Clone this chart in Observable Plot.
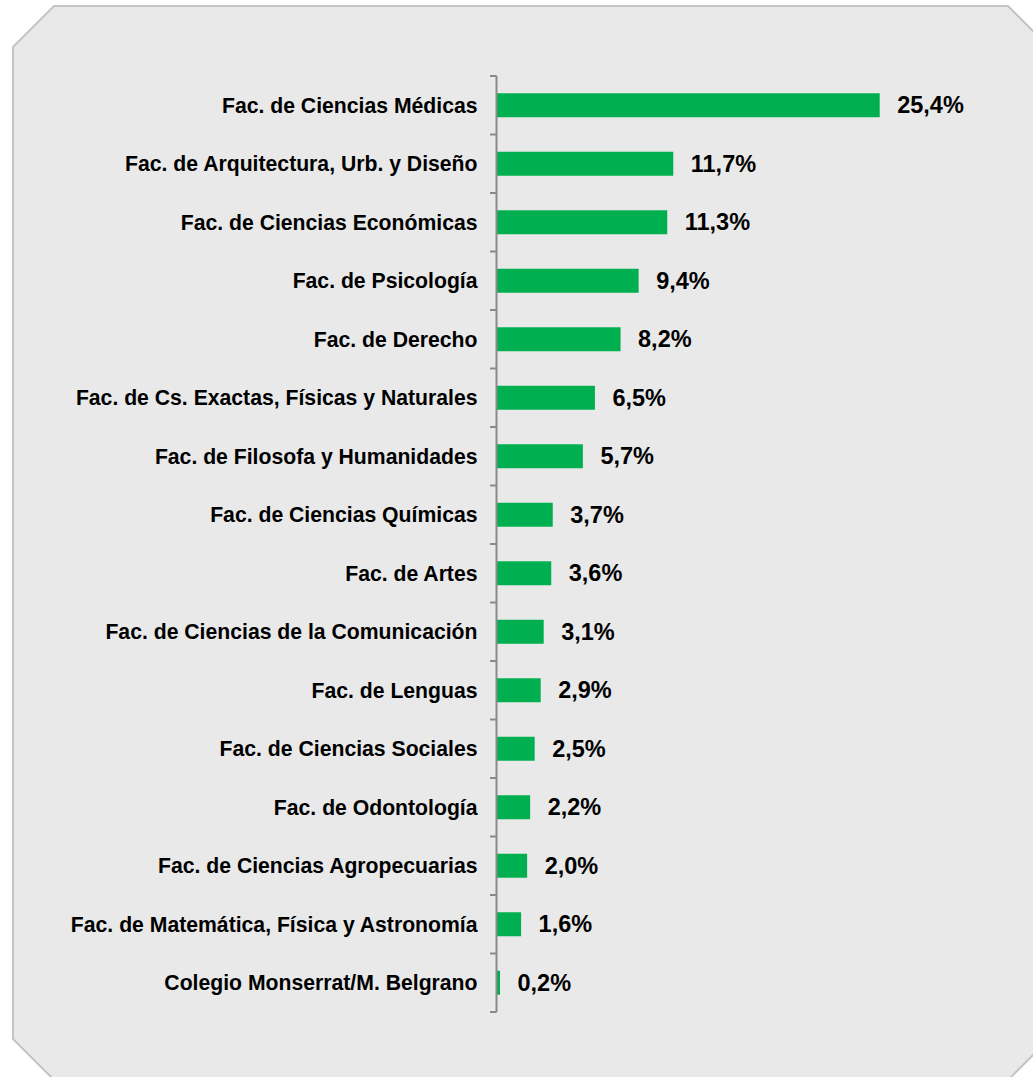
<!DOCTYPE html>
<html>
<head>
<meta charset="utf-8">
<script src="https://cdn.jsdelivr.net/npm/d3@7"></script>
<script src="https://cdn.jsdelivr.net/npm/@observablehq/plot@0.6"></script>
<style>
  html, body { margin: 0; padding: 0; background: #ffffff; }
  #wrap { position: relative; width: 1033px; height: 1077px; overflow: hidden; }
  #bg { position: absolute; left: 0; top: 0; }
  #chart { position: absolute; left: 0; top: 0; }
</style>
</head>
<body>
<div id="wrap">
  <svg id="bg" width="1033" height="1077"></svg>
  <div id="chart"></div>
</div>
<script>
const categories = [
  "Fac. de Ciencias Médicas",
  "Fac. de Arquitectura, Urb. y Diseño",
  "Fac. de Ciencias Económicas",
  "Fac. de Psicología",
  "Fac. de Derecho",
  "Fac. de Cs. Exactas, Físicas y Naturales",
  "Fac. de Filosofa y Humanidades",
  "Fac. de Ciencias Químicas",
  "Fac. de Artes",
  "Fac. de Ciencias de la Comunicación",
  "Fac. de Lenguas",
  "Fac. de Ciencias Sociales",
  "Fac. de Odontología",
  "Fac. de Ciencias Agropecuarias",
  "Fac. de Matemática, Física y Astronomía",
  "Colegio Monserrat/M. Belgrano"
];
const values = [25.4, 11.7, 11.3, 9.4, 8.2, 6.5, 5.7, 3.7, 3.6, 3.1, 2.9, 2.5, 2.2, 2.0, 1.6, 0.2];

const data = categories.map((c, i) => ({category: c, value: values[i]}));
const fmt = v => v.toFixed(1).replace(".", ",") + "%";

// Background panel with beveled corners
(function drawPanel() {
  const L = 13, T = 6, R = 1049, B = 1080, k = 41;
  const pts = [[L + k, T], [R - k, T], [R, T + k], [R, B - k], [R - k, B], [L + k, B], [L, B - k], [L, T + k]];
  d3.select("#bg").append("polygon")
    .attr("points", pts.map(p => p.join(",")).join(" "))
    .attr("fill", "#e9e9e9")
    .attr("stroke", "#c4c4c4")
    .attr("stroke-width", 2);
})();

// Axis line with tick marks between categories
function categoryAxis(index, scales, values, dims) {
  const y = scales.y, x = scales.x;
  const n = categories.length;
  const step = typeof y.step === "function" ? y.step() : (dims.height - dims.marginTop - dims.marginBottom) / n;
  const bw = typeof y.bandwidth === "function" ? y.bandwidth() : step * 0.41;
  const gap = (step - bw) / 2;
  const x0 = x(0);
  const g = d3.create("svg:g").attr("stroke", "#8a8a8a").attr("fill", "none");
  const bounds = categories.map(c => y(c) - gap);
  bounds.push(y(categories[n - 1]) + bw + gap);
  g.append("line")
    .attr("x1", x0 - 0.5).attr("x2", x0 - 0.5)
    .attr("y1", bounds[0]).attr("y2", bounds[n])
    .attr("stroke-width", 2);
  for (const b of bounds) {
    g.append("line")
      .attr("x1", x0 - 7).attr("x2", x0 - 0.5)
      .attr("y1", b).attr("y2", b)
      .attr("stroke-width", 2);
  }
  return g.node();
}

const chart = Plot.plot({
  width: 1033,
  height: 1077,
  marginLeft: 497,
  marginRight: 84,
  marginTop: 76,
  marginBottom: 65,
  style: {background: "transparent", fontFamily: "'Liberation Sans', Arial, sans-serif", overflow: "visible"},
  x: {domain: [0, 30], axis: null},
  y: {domain: categories, axis: null, paddingInner: 0.59, paddingOuter: 0.295, round: false},
  marks: [
    Plot.barX(data, {y: "category", x: "value", fill: "#00b050"}),
    categoryAxis,
    Plot.text(data, {
      y: "category", x: 0, text: "category", textAnchor: "end", dx: -20,
      fontSize: 21.2, fontWeight: "bold", fill: "#000000"
    }),
    Plot.text(data, {
      y: "category", x: "value", text: d => fmt(d.value), textAnchor: "start", dx: 17,
      fontSize: 23.5, fontWeight: "bold", fill: "#000000"
    })
  ]
});
document.getElementById("chart").appendChild(chart);
</script>
</body>
</html>
